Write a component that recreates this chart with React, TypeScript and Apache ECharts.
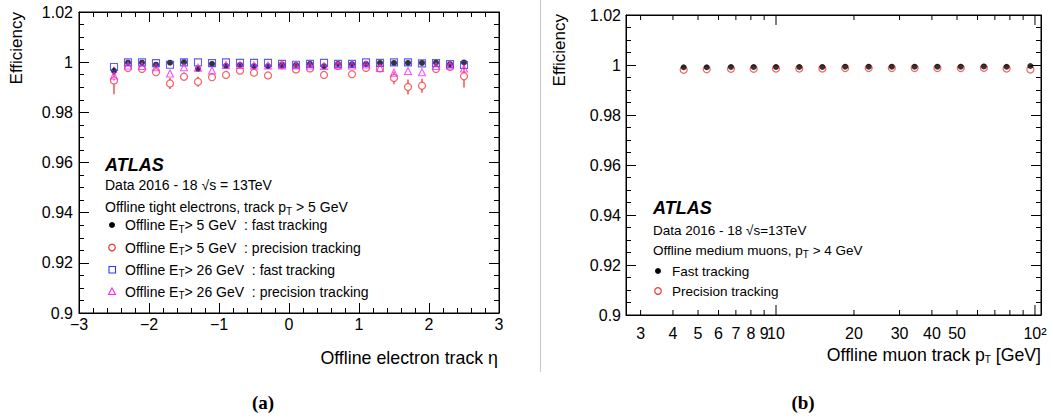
import React, { useEffect, useRef } from 'react';
import * as echarts from 'echarts';

// ---------- data: left panel (electrons vs eta) ----------
const etaBins = [-2.5, -2.3, -2.1, -1.9, -1.7, -1.5, -1.3, -1.1, -0.9, -0.7, -0.5, -0.3, -0.1, 0.1, 0.3, 0.5, 0.7, 0.9, 1.1, 1.3, 1.5, 1.7, 1.9, 2.1, 2.3, 2.5];
const eleFast5 = [0.9965, 0.9998, 0.9998, 0.999, 0.9998, 1.0, 0.9973, 0.9993, 0.9985, 0.9989, 0.9984, 0.9984, 0.9989, 0.9989, 0.9993, 0.9984, 0.9993, 0.9992, 0.9993, 0.9997, 0.9997, 0.9997, 0.9997, 0.9998, 0.9992, 0.9999];
const eleFast5Err = [0.0015, 0.0003, 0.0003, 0.0004, 0.0004, 0.0003, 0.0005, 0.0004, 0.0004, 0.0003, 0.0003, 0.0003, 0.0003, 0.0003, 0.0003, 0.0003, 0.0003, 0.0003, 0.0003, 0.0003, 0.0004, 0.0004, 0.0004, 0.0003, 0.0004, 0.0008];
const elePrec5 = [0.9927, 0.9977, 0.9973, 0.996, 0.9915, 0.9942, 0.9922, 0.994, 0.9949, 0.9966, 0.9958, 0.9947, 0.9988, 0.9971, 0.9975, 0.9949, 0.9985, 0.9952, 0.9977, 0.9975, 0.9937, 0.9901, 0.9906, 0.9973, 0.9981, 0.9944];
const elePrec5Err = [0.0055, 0.0008, 0.0008, 0.0012, 0.0022, 0.0016, 0.002, 0.0012, 0.0012, 0.0008, 0.0008, 0.0012, 0.0006, 0.0008, 0.0008, 0.0012, 0.0006, 0.0012, 0.0008, 0.0008, 0.0025, 0.003, 0.0028, 0.0008, 0.001, 0.0045];
const eleFast26 = [0.9981, 0.9999, 0.9999, 0.9996, 0.999, 0.9999, 0.9999, 0.9996, 0.9999, 0.9997, 0.9997, 0.9997, 0.9993, 0.999, 0.9993, 0.9997, 0.9993, 0.9993, 0.9999, 0.9997, 0.9999, 0.9999, 0.9995, 0.9996, 0.9992, 0.9989];
const elePrec26 = [0.9947, 0.9987, 0.9985, 0.998, 0.9955, 0.998, 0.9978, 0.9967, 0.9989, 0.9989, 0.9987, 0.9987, 0.9987, 0.9987, 0.9987, 0.9985, 0.9987, 0.9987, 0.9991, 0.9977, 0.9958, 0.9965, 0.996, 0.9985, 0.9987, 0.9975];
const elePrec26Err = [0.002, 0.0005, 0.0005, 0.0006, 0.0012, 0.0006, 0.0006, 0.0008, 0.0005, 0.0005, 0.0005, 0.0005, 0.0005, 0.0005, 0.0005, 0.0005, 0.0005, 0.0005, 0.0005, 0.0006, 0.0012, 0.0012, 0.0012, 0.0006, 0.0006, 0.0012];

// ---------- data: right panel (muons vs pT) ----------
const muonPt = [4.4, 5.4, 6.7, 8.2, 10, 12.3, 15.1, 18.5, 22.8, 28, 34.3, 42, 51.7, 63.5, 77.7, 96];
const muonFast = [0.9991, 0.9991, 0.9992, 0.9992, 0.9992, 0.9992, 0.9992, 0.9993, 0.9993, 0.9993, 0.9993, 0.9993, 0.9993, 0.9994, 0.9993, 0.9996];
const muonPrec = [0.9981, 0.9983, 0.9985, 0.9985, 0.9986, 0.9986, 0.9986, 0.9988, 0.9988, 0.9988, 0.9988, 0.9988, 0.9988, 0.9989, 0.9986, 0.9982];

// ---------- axis ticks ----------
const pTTicks = [3, 4, 5, 6, 7, 8, 9, 10, 20, 30, 40, 50, 60, 70, 80, 90, 100];
const pTTickLabels = ['3', '4', '5', '6', '7', '8', '9', '10', '20', '30', '40', '50', '', '', '', '', '10²'];
const pTMajor = [10, 100];

const FONT = '"Liberation Sans", Arial, Helvetica, sans-serif';
const RED = '#f23a3a';
const BLUE = '#3535f5';
const MAGENTA = '#ff22ff';

const yFmt = (v: number) => String(Math.round(v * 100) / 100);
const etaFmt = (v: number) => (v < 0 ? '\u2212' + Math.abs(v) : String(v));

function valueAxisY(gridIndex: number, position: 'left' | 'right', showLabel: boolean, margin: number) {
  return {
    type: 'value', gridIndex, position, min: 0.9, max: 1.02, interval: 0.02,
    axisLine: { show: true, onZero: false, lineStyle: { color: '#000', width: 1 } },
    axisTick: { show: true, inside: true, length: 10, lineStyle: { color: '#000' } },
    minorTick: { show: true, splitNumber: 4, length: 5, lineStyle: { color: '#000' } },
    splitLine: { show: false },
    axisLabel: { show: showLabel, formatter: yFmt, color: '#000', fontSize: 16, fontFamily: FONT, margin },
  };
}

function errBarSeries(xs: number[], ys: number[], es: number[], color: string, gap: number, z: number) {
  return {
    type: 'custom', xAxisIndex: 0, yAxisIndex: 0, silent: true, z,
    data: xs.map((x, i) => [x, ys[i], es[i]]),
    renderItem: (params: any, api: any) => {
      const x = api.value(0), y = api.value(1), e = api.value(2);
      const c = api.coord([x, y]);
      const hi = api.coord([x, y + e]);
      const lo = api.coord([x, y - e]);
      const kids: any[] = [];
      if (c[1] - hi[1] > gap) kids.push({ type: 'line', shape: { x1: c[0], y1: hi[1], x2: c[0], y2: c[1] - gap }, style: { stroke: color, lineWidth: 1.3 } });
      if (lo[1] - c[1] > gap) kids.push({ type: 'line', shape: { x1: c[0], y1: c[1] + gap, x2: c[0], y2: lo[1] }, style: { stroke: color, lineWidth: 1.3 } });
      return { type: 'group', children: kids };
    },
  };
}

const subRich = { sub: { fontSize: 10, fontFamily: FONT, fill: '#000', padding: [8, 0, 0, 0] } };

function txt(x: number, y: number, text: string, size: number, extra: any = {}) {
  return {
    type: 'text', x, y, silent: true,
    style: { text, fill: '#000', fontSize: size, fontFamily: FONT, align: 'left', verticalAlign: 'middle', rich: subRich, ...extra },
  };
}

export default function App() {
  const ref = useRef<HTMLDivElement>(null);
  useEffect(() => {
    if (!ref.current) return;
    const chart = echarts.init(ref.current, undefined, { renderer: 'svg' });
    const option: any = {
      animation: false,
      backgroundColor: '#fff',
      grid: [
        { left: 79, top: 12, width: 420, height: 301, show: true, borderColor: '#000', borderWidth: 1, backgroundColor: 'transparent' },
        { left: 626, top: 15, width: 415, height: 300, show: true, borderColor: '#000', borderWidth: 1, backgroundColor: 'transparent' },
      ],
      xAxis: [
        {
          type: 'value', gridIndex: 0, position: 'bottom', min: -3, max: 3, interval: 1,
          axisLine: { show: true, onZero: false, lineStyle: { color: '#000' } },
          axisTick: { show: true, inside: true, length: 10, lineStyle: { color: '#000' } },
          minorTick: { show: true, splitNumber: 5, length: 5, lineStyle: { color: '#000' } },
          splitLine: { show: false },
          axisLabel: { formatter: etaFmt, color: '#000', fontSize: 16, fontFamily: FONT, margin: 3 },
        },
        {
          type: 'value', gridIndex: 0, position: 'top', min: -3, max: 3, interval: 1,
          axisLine: { show: true, onZero: false, lineStyle: { color: '#000' } },
          axisTick: { show: true, inside: true, length: 10, lineStyle: { color: '#000' } },
          minorTick: { show: true, splitNumber: 5, length: 5, lineStyle: { color: '#000' } },
          splitLine: { show: false },
          axisLabel: { show: false },
        },
        {
          type: 'log', logBase: 10, gridIndex: 1, position: 'bottom', min: 2.635, max: 105.5,
          axisLine: { show: true, onZero: false, lineStyle: { color: '#000' } },
          axisTick: { show: false }, splitLine: { show: false }, axisLabel: { show: false },
        },
        {
          type: 'log', logBase: 10, gridIndex: 1, position: 'top', min: 2.635, max: 105.5,
          axisLine: { show: true, onZero: false, lineStyle: { color: '#000' } },
          axisTick: { show: false }, splitLine: { show: false }, axisLabel: { show: false },
        },
      ],
      yAxis: [
        valueAxisY(0, 'left', true, 6),
        valueAxisY(0, 'right', false, 6),
        valueAxisY(1, 'left', true, 5),
        valueAxisY(1, 'right', false, 5),
      ],
      series: [
        errBarSeries(etaBins, eleFast5, eleFast5Err, '#000', 2.5, 2),
        errBarSeries(etaBins, elePrec5, elePrec5Err, RED, 3.5, 2),
        errBarSeries(etaBins, elePrec26, elePrec26Err, MAGENTA, 3.5, 2),
        {
          name: 'Offline ET> 5 GeV : fast tracking', type: 'scatter', xAxisIndex: 0, yAxisIndex: 0, z: 3,
          data: etaBins.map((x, i) => [x, eleFast5[i]]), symbol: 'circle', symbolSize: 6,
          itemStyle: { color: '#000' },
        },
        {
          name: 'Offline ET> 5 GeV : precision tracking', type: 'scatter', xAxisIndex: 0, yAxisIndex: 0, z: 3,
          data: etaBins.map((x, i) => [x, elePrec5[i]]), symbol: 'circle', symbolSize: 7,
          itemStyle: { color: 'transparent', borderColor: RED, borderWidth: 1.2 },
        },
        {
          name: 'Offline ET> 26 GeV : fast tracking', type: 'scatter', xAxisIndex: 0, yAxisIndex: 0, z: 3,
          data: etaBins.map((x, i) => [x, eleFast26[i]]), symbol: 'rect', symbolSize: 7,
          itemStyle: { color: 'transparent', borderColor: BLUE, borderWidth: 1.1 },
        },
        {
          name: 'Offline ET> 26 GeV : precision tracking', type: 'scatter', xAxisIndex: 0, yAxisIndex: 0, z: 3,
          data: etaBins.map((x, i) => [x, elePrec26[i]]), symbol: 'triangle', symbolSize: 7,
          itemStyle: { color: 'transparent', borderColor: MAGENTA, borderWidth: 1.1 },
        },
        {
          name: 'Fast tracking', type: 'scatter', xAxisIndex: 2, yAxisIndex: 2, z: 3,
          data: muonPt.map((x, i) => [x, muonFast[i]]), symbol: 'circle', symbolSize: 6,
          itemStyle: { color: '#000' },
        },
        {
          name: 'Precision tracking', type: 'scatter', xAxisIndex: 2, yAxisIndex: 2, z: 2,
          data: muonPt.map((x, i) => [x, muonPrec[i]]), symbol: 'circle', symbolSize: 7,
          itemStyle: { color: 'transparent', borderColor: RED, borderWidth: 1.2 },
        },
        {
          type: 'custom', xAxisIndex: 2, yAxisIndex: 2, silent: true, clip: false, z: 4,
          data: pTTicks.map((v) => [v, 0.9]),
          renderItem: (params: any, api: any) => {
            const v = api.value(0);
            const b = api.coord([v, 0.9]);
            const t = api.coord([v, 1.02]);
            const len = pTMajor.indexOf(v) >= 0 ? 10 : 5;
            const lab = pTTickLabels[params.dataIndex];
            const kids: any[] = [
              { type: 'line', shape: { x1: b[0], y1: b[1], x2: b[0], y2: b[1] - len }, style: { stroke: '#000', lineWidth: 1 } },
              { type: 'line', shape: { x1: t[0], y1: t[1], x2: t[0], y2: t[1] + len }, style: { stroke: '#000', lineWidth: 1 } },
            ];
            if (lab) {
              kids.push({ type: 'text', x: b[0], y: b[1] + 18, style: { text: lab, fill: '#000', fontSize: 16, fontFamily: FONT, align: 'center', verticalAlign: 'middle' } });
            }
            return { type: 'group', children: kids };
          },
        },
      ],
      graphic: [
        { type: 'line', silent: true, shape: { x1: 540.5, y1: 0, x2: 540.5, y2: 372 }, style: { stroke: '#c8c8c8', lineWidth: 1 } },
        // axis titles
        { type: 'text', x: 16, y: 12, rotation: Math.PI / 2, silent: true, style: { text: 'Efficiency', fill: '#000', fontSize: 17, fontFamily: FONT, align: 'right', verticalAlign: 'middle' } },
        { type: 'text', x: 559, y: 14, rotation: Math.PI / 2, silent: true, style: { text: 'Efficiency', fill: '#000', fontSize: 17, fontFamily: FONT, align: 'right', verticalAlign: 'middle' } },
        txt(498, 358, 'Offline electron track η', 17.8, { align: 'right' }),
        txt(1041, 355, 'Offline muon track p{sub|T} [GeV]', 17.7, { align: 'right' }),
        { type: 'text', x: 263, y: 402, silent: true, style: { text: '(a)', fill: '#000', fontSize: 19, fontWeight: 'bold', fontFamily: '"Liberation Serif", "Times New Roman", serif', align: 'center', verticalAlign: 'middle' } },
        { type: 'text', x: 803, y: 402, silent: true, style: { text: '(b)', fill: '#000', fontSize: 19, fontWeight: 'bold', fontFamily: '"Liberation Serif", "Times New Roman", serif', align: 'center', verticalAlign: 'middle' } },
        // left legend
        txt(105, 165, 'ATLAS', 18, { fontWeight: 'bold', fontStyle: 'italic' }),
        txt(105, 185, 'Data 2016 - 18 √s = 13TeV', 14),
        txt(105, 207, 'Offline tight electrons, track p{sub|T} > 5 GeV', 14),
        { type: 'circle', silent: true, shape: { cx: 112, cy: 225, r: 3 }, style: { fill: '#000' } },
        txt(125, 225, 'Offline E{sub|T}> 5 GeV  : fast tracking', 14),
        { type: 'circle', silent: true, shape: { cx: 112, cy: 247.5, r: 3.3 }, style: { fill: 'none', stroke: RED, lineWidth: 1.2 } },
        txt(125, 247.5, 'Offline E{sub|T}> 5 GeV  : precision tracking', 14),
        { type: 'rect', silent: true, shape: { x: 109, y: 266.5, width: 6.5, height: 6.5 }, style: { fill: 'none', stroke: BLUE, lineWidth: 1.1 } },
        txt(125, 269.5, 'Offline E{sub|T}> 26 GeV  : fast tracking', 14),
        { type: 'polygon', silent: true, shape: { points: [[112, 288], [115.5, 294.5], [108.5, 294.5]] }, style: { fill: 'none', stroke: MAGENTA, lineWidth: 1.1 } },
        txt(125, 291.5, 'Offline E{sub|T}> 26 GeV  : precision tracking', 14),
        // right legend
        txt(653, 208, 'ATLAS', 18, { fontWeight: 'bold', fontStyle: 'italic' }),
        txt(653, 230, 'Data 2016 - 18 √s=13TeV', 13.5),
        txt(653, 250, 'Offline medium muons, p{sub|T} > 4 GeV', 13.5),
        { type: 'circle', silent: true, shape: { cx: 658, cy: 271, r: 3 }, style: { fill: '#000' } },
        txt(672, 271, 'Fast tracking', 13.5),
        { type: 'circle', silent: true, shape: { cx: 658, cy: 291, r: 3.3 }, style: { fill: 'none', stroke: RED, lineWidth: 1.2 } },
        txt(672, 291, 'Precision tracking', 13.5),
      ],
    };
    chart.setOption(option);
    return () => chart.dispose();
  }, []);
  return <div ref={ref} style={{ position: 'absolute', left: 0, top: 0, width: 1053, height: 418 }} />;
}
